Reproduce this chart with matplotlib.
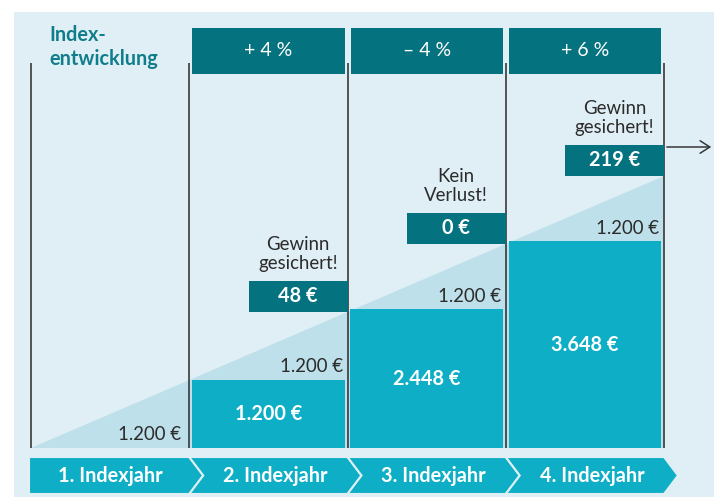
import matplotlib
matplotlib.use("Agg")
import matplotlib.pyplot as plt
from matplotlib.patches import Rectangle, Polygon
import numpy as np

# ---- data ----
years = ["1. Indexjahr", "2. Indexjahr", "3. Indexjahr", "4. Indexjahr"]
index_change = ["+ 4 %", "– 4 %", "+ 6 %"]          # for years 2-4
contribution = [1200, 1200, 1200, 1200]              # yearly contribution
balance = [0, 1200, 2448, 3648]                      # balance at start of year
gains = [48, 0, 219]                                 # locked-in gain, years 2-4
gain_notes = ["Gewinn\ngesichert!", "Kein\nVerlust!", "Gewinn\ngesichert!"]
title = "Index-\nentwicklung"

# ---- style ----
BG = "#e0eff5"
TRI = "#bee0ea"
BAR = "#0eafc6"
DARK = "#05737f"
TEXT = "#2b2b2b"
TITLE = "#0f7d8a"
LINE = "#383838"
FONT = ["Lato", "DejaVu Sans"]
FS = 13.4    # regular text
FSB = 14.3   # bold text

plt.rcParams['font.family'] = FONT

W, H = 721, 497
X0, COL = 31.0, 158.25          # px of x=0, px per column
BASE, EPP = 448.0, 1200 / 68.0  # baseline px, euros per px


def fx(p):
    return (p - X0) / COL


def fy(p):
    return (BASE - p) * EPP


def eur(v):
    return f"{v:,}".replace(",", ".") + " €"


fig = plt.figure(figsize=(W / 100, H / 100), dpi=100)
ax = fig.add_axes([0, 0, 1, 1])
ax.set_xlim(fx(0), fx(W))
ax.set_ylim(fy(H), fy(0))
ax.axis("off")

# panel background
ax.add_patch(Rectangle((fx(14), fy(H + 5)), fx(714) - fx(14), fy(12) - fy(H + 5),
                       facecolor=BG, edgecolor="none", zorder=0))

n = len(years)
cum = np.cumsum(contribution)
pad = 3 / COL

# triangle of cumulative contributions
ax.add_patch(Polygon([(0, 0), (n, cum[-1]), (n, 0)], closed=True,
                     facecolor=TRI, edgecolor="none", zorder=1))

# bars
ax.bar(np.arange(n) + 0.5, balance, width=1 - 2 * pad, color=BAR, zorder=2)
for i, b in enumerate(balance):
    if b > 0:
        ax.text(i + 0.5, b / 2, eur(b), color="white", fontsize=FSB,
                fontweight="bold", ha="center", va="center", zorder=5)
    ax.text(i + 1 - 0.02 * (i == 0) - 0.03, b + 13 * EPP, eur(contribution[i]),
            color=TEXT, fontsize=FS, ha="right", va="center", zorder=5)

# vertical lines
ax.vlines(np.arange(n + 1), 0, fy(63), color=LINE, lw=1.2, zorder=3)

# header boxes
for k, lab in enumerate(index_change):
    i = k + 1
    ax.add_patch(Rectangle((i + pad, fy(74)), 1 - 2 * pad, fy(28) - fy(74),
                           facecolor=DARK, edgecolor="none", zorder=2))
    ax.text(i + 0.5, (fy(74) + fy(28)) / 2, lab, color="white", fontsize=FS + 0.6,
            ha="center", va="center", zorder=5)

# gain boxes
bw = 0.625
bh = 31 * EPP
for k, g in enumerate(gains):
    xr = k + 2
    yb = cum[k + 1]
    ax.add_patch(Rectangle((xr - bw, yb), bw, bh, facecolor=DARK,
                           edgecolor="none", zorder=4))
    ax.text(xr - bw / 2, yb + bh / 2, eur(g), color="white", fontsize=FSB,
            fontweight="bold", ha="center", va="center", zorder=5)
    ax.text(xr - bw / 2, yb + bh + 27 * EPP, gain_notes[k], color=TEXT,
            fontsize=FS, ha="center", va="center", linespacing=1.18,
            multialignment="center", zorder=5)

# arrow
ax.annotate("", xy=(fx(714), fy(147)), xytext=(n, fy(147)),
            arrowprops=dict(arrowstyle="->,head_length=0.7,head_width=0.45",
                            color=LINE, lw=1.1), zorder=5)

# title
ax.text(fx(49), (fy(35) + fy(59)) / 2, title, color=TITLE, fontsize=FSB,
        fontweight="bold", ha="left", va="center", linespacing=1.22, zorder=5)

# bottom chevrons
yt, yb2 = fy(457), fy(494)
ym = (yt + yb2) / 2
d = 14 / COL
for i, lab in enumerate(years):
    L = i if i > 0 else fx(29)
    R = i + 1
    pts = [(L, yt), (R, yt), (R + d, ym), (R, yb2), (L, yb2)]
    if i > 0:
        pts.append((L + d, ym))
    ax.add_patch(Polygon(pts, closed=True, facecolor=BAR, edgecolor=BG,
                         lw=1.5, zorder=2))
    ax.text(i + 0.5 + (d / 2 if i > 0 else 0), ym, lab, color="white",
            fontsize=FSB, fontweight="bold", ha="center", va="center", zorder=5)

fig.savefig("out.png", dpi=100)
